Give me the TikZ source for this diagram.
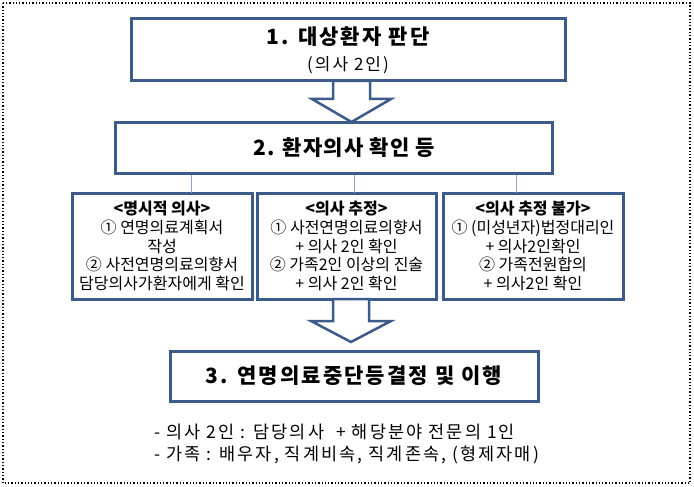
\documentclass[tikz,border=0pt]{standalone}
\usepackage{fontspec}
\setmainfont{Noto Sans CJK KR}
\usetikzlibrary{calc}
\definecolor{boxline}{HTML}{3C5A8A}
\definecolor{linkline}{HTML}{8EA3C2}
\tikzset{
  stepbox/.style={draw=boxline, line width=3pt, fill=white, inner sep=0pt, align=center},
  casebox/.style={stepbox, minimum width=180pt, minimum height=106pt,
    font=\fontsize{16}{18.7}\selectfont},
  fatarrow/.style={draw=boxline, line width=2.5pt, fill=white, line join=miter},
  link/.style={draw=linkline, line width=1pt},
}
\newcommand{\bigtitle}{\fontsize{21}{24}\selectfont\bfseries\addfontfeature{LetterSpace=10}}
\begin{document}
\begin{tikzpicture}[x=1pt, y=-1pt]
  \useasboundingbox (0,0) rectangle (694,487);
  \draw[dotted, line width=1.3pt] (3,3) rectangle (690,483);
  % steps
  \node[stepbox, minimum width=434pt, minimum height=62pt] (b1) at (348,50)
    {{\bigtitle 1. 대상환자 판단}\\[9pt]{\fontsize{17}{20}\selectfont\addfontfeature{LetterSpace=12}(의사 2인)}};
  \node[stepbox, minimum width=437pt, minimum height=51pt] (b2) at (333.5,147.5) {};
  \node[inner sep=0pt, font=\bigtitle\addfontfeature{LetterSpace=6}] (b2text) at (344,147.5)
    {2. 환자의사 확인 등};
  \node[stepbox, minimum width=368pt, minimum height=50pt, font=\bigtitle] (b3) at (354,376)
    {3. 연명의료중단등결정 및 이행};
  % three cases
  \node[casebox] (ca) at (162,246)
    {\textbf{<명시적 의사>}\\① 연명의료계획서\\작성\\② 사전연명의료의향서\\담당의사가환자에게 확인};
  \node[casebox, minimum width=179pt] (cb) at (346.5,246)
    {\textbf{<의사 추정>}\\① 사전연명의료의향서\\+ 의사 2인 확인\\② 가족2인 이상의 진술\\+ 의사 2인 확인};
  \node[casebox] (cc) at (533,246)
    {\textbf{<의사 추정 불가>}\\① (미성년자)법정대리인\\+ 의사2인확인\\② 가족전원합의\\+ 의사2인 확인};
  % thin links
  \coordinate (la) at (191,193);
  \coordinate (lb) at (354.5,193);
  \coordinate (lc) at (516,193);
  \draw[link] (la |- b2.south) -- (la);
  \draw[link] (lb |- b2.south) -- (lb);
  \draw[link] (lc |- b2.south) -- (lc);
  % block arrows
  \coordinate (a1top) at (351.5,81);
  \coordinate (a1tip) at (351.5,122);
  \draw[fatarrow] ($(a1top)+(-18.5,0)$) -- ++(0,18) -- ++(-21,0) -- (a1tip)
    -- ++(39.5,-23) -- ++(-21,0) -- ++(0,-18) -- cycle;
  \coordinate (a2top) at (351,299);
  \coordinate (a2tip) at (351,342);
  \draw[fatarrow] ($(a2top)+(-18,0)$) -- ++(0,22) -- ++(-22,0) -- (a2tip)
    -- ++(40,-21) -- ++(-22,0) -- ++(0,-22) -- cycle;
  % notes
  \node[anchor=west, align=left, inner sep=0pt,
    font=\fontsize{17.5}{22}\selectfont\addfontfeature{LetterSpace=12}] (notes) at (154,444)
    {- 의사 2인 : 담당의사 \ + 해당분야 전문의 1인\\- 가족 : 배우자, 직계비속, 직계존속, (형제자매)};
\end{tikzpicture}
\end{document}
